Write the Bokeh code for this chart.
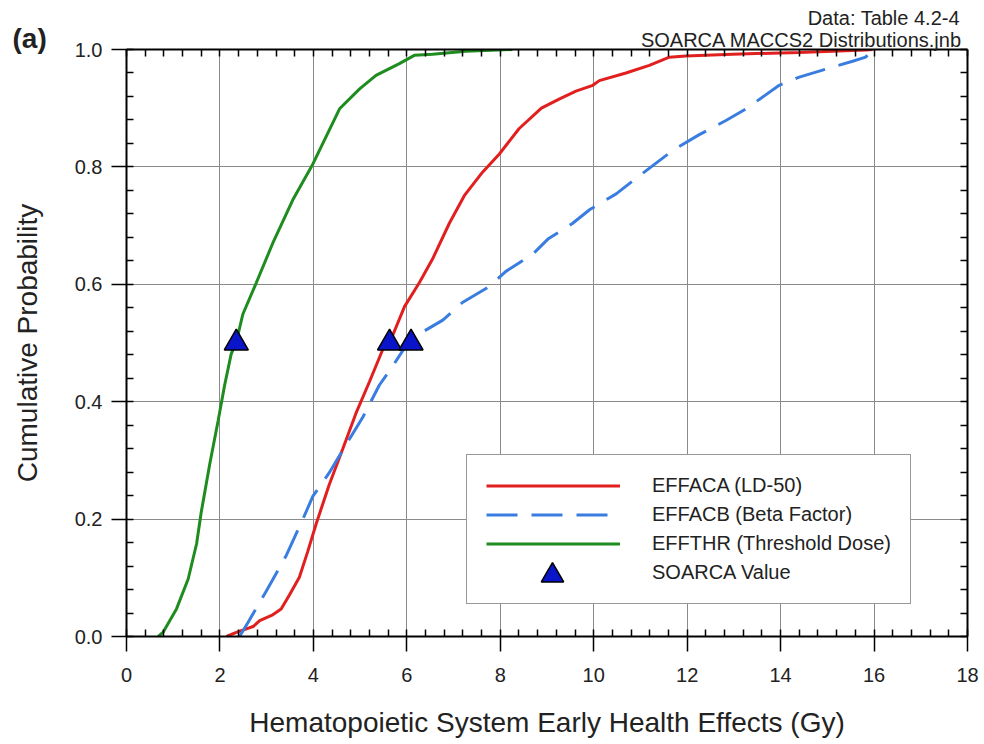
from bokeh.plotting import figure
from bokeh.models import (Range1d, FixedTicker, PrintfTickFormatter, LinearAxis,
                          Legend, LegendItem, Title)
from bokeh.embed import file_html
from bokeh.resources import INLINE

# ---- data ----
green_x = [0.68, 0.78, 1.07, 1.32, 1.50, 1.60, 1.78, 1.96, 2.10, 2.24, 2.35, 2.49, 2.78,
           3.13, 3.56, 3.99, 4.56, 4.99, 5.34, 5.84, 6.16, 6.55, 7.26, 8.26]
green_y = [0.0, 0.007, 0.047, 0.098, 0.158, 0.212, 0.293, 0.367, 0.428, 0.481, 0.502, 0.549,
           0.603, 0.670, 0.744, 0.805, 0.899, 0.933, 0.956, 0.976, 0.990, 0.992, 0.997, 1.0]

red_x = [2.14, 2.35, 2.71, 2.85, 3.13, 3.31, 3.49, 3.70, 3.88, 4.06, 4.34, 4.63, 4.91, 5.20,
         5.48, 5.63, 5.95, 6.27, 6.55, 6.91, 7.23, 7.62, 7.98, 8.40, 8.88, 9.27, 9.62, 9.98,
         10.12, 10.69, 11.19, 11.62, 11.97, 12.97, 14.40, 15.82, 15.97]
red_y = [0.0, 0.007, 0.017, 0.027, 0.037, 0.047, 0.071, 0.101, 0.145, 0.192, 0.259, 0.320,
         0.380, 0.434, 0.488, 0.500, 0.562, 0.603, 0.643, 0.704, 0.751, 0.791, 0.822, 0.865,
         0.900, 0.916, 0.929, 0.939, 0.947, 0.960, 0.973, 0.987, 0.989, 0.992, 0.995, 0.999, 1.0]

blue_x = [2.42, 2.60, 2.99, 3.42, 3.77, 3.99, 4.34, 4.70, 5.06, 5.41, 5.70, 5.98, 6.09, 6.34,
          6.77, 7.19, 7.76, 8.12, 8.69, 9.02, 9.55, 9.91, 10.48, 10.98, 11.69, 12.26, 12.83,
          13.26, 13.97, 14.40, 15.11, 15.54, 15.82, 15.97]
blue_y = [0.0, 0.024, 0.077, 0.138, 0.199, 0.239, 0.279, 0.327, 0.374, 0.428, 0.461, 0.495,
          0.500, 0.519, 0.539, 0.569, 0.596, 0.622, 0.651, 0.677, 0.704, 0.727, 0.754, 0.785,
          0.828, 0.855, 0.879, 0.899, 0.939, 0.953, 0.970, 0.980, 0.987, 1.0]

soarca_x = [2.35, 5.63, 6.09]
soarca_y = [0.5, 0.5, 0.5]

x_ticks = [0, 2, 4, 6, 8, 10, 12, 14, 16, 18]
y_ticks = [0.0, 0.2, 0.4, 0.6, 0.8, 1.0]
x_minor = [round(i * 0.4, 2) for i in range(46)]
y_minor = [round(i * 0.04, 2) for i in range(26)]

labels = ["EFFACA (LD-50)", "EFFACB (Beta Factor)", "EFFTHR (Threshold Dose)", "SOARCA Value"]
header_lines = ["Data:  Table 4.2-4", "SOARCA MACCS2 Distributions.jnb"]
panel_tag = "(a)"

FONT = "Liberation Sans"
TXT = "#222222"
TRI_FILL = "#0a14c8"

BL, BT, BR, BB = 126, 49, 16, 105
FW, FH = 841, 587

p = figure(width=BL + FW + BR, height=BT + FH + BB, output_backend="svg", toolbar_location=None,
           x_range=Range1d(0, 18), y_range=Range1d(0, 1),
           min_border_left=BL, min_border_right=BR, min_border_top=BT, min_border_bottom=BB,
           x_axis_label="Hematopoietic System Early Health Effects (Gy)",
           y_axis_label="Cumulative Probability")
p.outline_line_color = None
p.background_fill_color = "white"

for ax, tk, mn in ((p.xaxis[0], x_ticks, x_minor), (p.yaxis[0], y_ticks, y_minor)):
    ax.ticker = FixedTicker(ticks=tk, minor_ticks=mn)
    ax.axis_line_width = 2
    ax.axis_line_color = "black"
    ax.major_tick_in = 0
    ax.major_tick_out = 15
    ax.minor_tick_in = 7
    ax.minor_tick_out = 0
    ax.major_tick_line_width = 1.5
    ax.minor_tick_line_width = 1.5
    ax.major_label_text_font = FONT
    ax.major_label_text_font_size = "20px"
    ax.major_label_text_color = TXT
    ax.axis_label_text_font = FONT
    ax.axis_label_text_font_style = "normal"
    ax.axis_label_text_color = TXT
    ax.axis_label_text_font_size = "28px"

p.yaxis[0].formatter = PrintfTickFormatter(format="%.1f")
p.xaxis[0].major_label_standoff = 16
p.xaxis[0].axis_label_standoff = 22
p.yaxis[0].major_label_standoff = 9
p.yaxis[0].axis_label_standoff = 29

for loc, tk, mn in (("above", x_ticks, x_minor), ("right", y_ticks, y_minor)):
    ax = LinearAxis(ticker=FixedTicker(ticks=tk, minor_ticks=mn))
    ax.axis_line_width = 2
    ax.major_tick_in = 0
    ax.major_tick_out = 0
    ax.minor_tick_in = 7
    ax.minor_tick_out = 0
    ax.minor_tick_line_width = 1.5
    ax.major_label_text_color = None
    ax.major_label_standoff = 0
    p.add_layout(ax, loc)

# "(a)" tag: innermost title row, pulled left of the frame
p.add_layout(Title(text=panel_tag, align="left", offset=-114, vertical_align="middle",
                   text_font=FONT, text_font_size="28px", text_font_style="bold",
                   text_color=TXT, standoff=-11), "above")
# two header lines as one title block; the shorter first line is padded with
# no-break spaces so that both lines end at the right edge
header_text = "\u00a0" * 30 + header_lines[0] + "\n" + header_lines[1]
p.add_layout(Title(text=header_text, align="right", offset=2,
                   vertical_align="bottom", text_font=FONT, text_font_size="20px",
                   text_font_style="normal", text_color=TXT, standoff=-46), "above")

p.xgrid.ticker = FixedTicker(ticks=x_ticks)
p.ygrid.ticker = FixedTicker(ticks=y_ticks)
for g in (p.xgrid[0], p.ygrid[0]):
    g.grid_line_color = "#8a8a8a"
    g.grid_line_width = 1

r_red = p.line(red_x, red_y, line_color="#e21f1f", line_width=3)
r_blue = p.line(blue_x, blue_y, line_color="#3a7de0", line_width=3, line_dash="31 14")
r_green = p.line(green_x, green_y, line_color="#1e8c1e", line_width=3)
r_tri = p.scatter(soarca_x, soarca_y, marker="triangle", size=24,
                  fill_color=TRI_FILL, line_color="black", line_width=1.5)

LEG_X, LEG_Y, PAD = 340, 32, 19
legend = Legend(items=[LegendItem(label=labels[0], renderers=[r_red]),
                       LegendItem(label=labels[1], renderers=[r_blue]),
                       LegendItem(label=labels[2], renderers=[r_green]),
                       LegendItem(label=labels[3], renderers=[r_tri])],
                location=(LEG_X, LEG_Y))
legend.label_text_font = FONT
legend.label_text_font_size = "20px"
legend.label_text_color = TXT
legend.glyph_width = 134
legend.glyph_height = 21
legend.label_height = 21
legend.label_standoff = 32
legend.spacing = 6
legend.padding = PAD
legend.margin = 0
legend.border_line_color = "#333333"
legend.border_line_width = 1.5
legend.background_fill_alpha = 1
p.add_layout(legend, "center")

# second, frameless legend that only draws a full-size triangle swatch over row 4
BIG = 56
legend2 = Legend(items=[LegendItem(label=" ", renderers=[r_tri])],
                 location=(LEG_X + PAD, LEG_Y + PAD + 10.5 - BIG / 2))
legend2.glyph_width = 134
legend2.glyph_height = BIG
legend2.label_height = BIG
legend2.label_standoff = 0
legend2.padding = 0
legend2.margin = 0
legend2.border_line_color = None
legend2.background_fill_alpha = 0
legend2.label_text_font_size = "1px"
p.add_layout(legend2, "center")

open("out.html", "w").write(file_html(p, INLINE))
